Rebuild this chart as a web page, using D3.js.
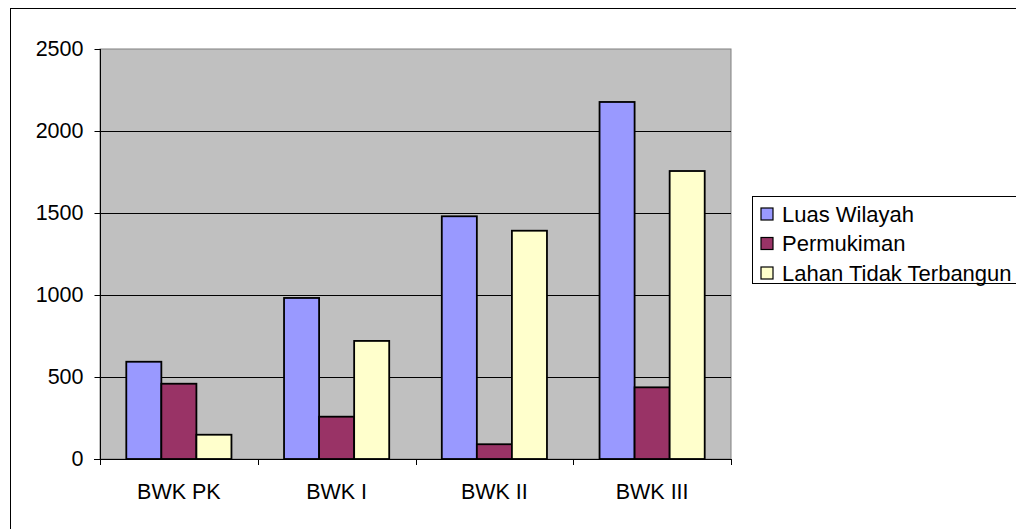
<!DOCTYPE html>
<html>
<head>
<meta charset="utf-8">
<script src="https://cdn.jsdelivr.net/npm/d3@7"></script>
<style>
  body { margin: 0; background: #fff; }
  svg { display: block; font-family: "Liberation Sans", Arial, sans-serif; }
</style>
</head>
<body>
<div id="chart"></div>
<script>
// data
const categories = ["BWK PK", "BWK I", "BWK II", "BWK III"];
const seriesNames = ["Luas Wilayah", "Permukiman", "Lahan Tidak Terbangun"];
const luasWilayah = [593, 982, 1480, 2177];
const permukiman = [459, 258, 90, 437];
const lahanTidakTerbangun = [148, 720, 1392, 1756];
const yTicks = [0, 500, 1000, 1500, 2000, 2500];
const colors = ["#9999FF", "#993366", "#FFFFCC"];

const values = [luasWilayah, permukiman, lahanTidakTerbangun];

const w = 1016, h = 529;
const plot = {left: 100, right: 731, top: 49, bottom: 459};

const svg = d3.select("#chart").append("svg")
  .attr("width", w)
  .attr("height", h);

// outer frame
svg.append("rect")
  .attr("x", 10.5).attr("y", 8.5)
  .attr("width", 1020).attr("height", 540)
  .attr("fill", "#fff").attr("stroke", "#000");

// scales
const x0 = d3.scaleBand().domain(categories).range([plot.left, plot.right]);
const x1 = d3.scaleBand().domain(seriesNames).range([0, x0.bandwidth()])
  .paddingOuter(0.75);
const y = d3.scaleLinear().domain([0, 2500]).range([plot.bottom, plot.top]);

// plot background
svg.append("rect")
  .attr("x", plot.left).attr("y", plot.top)
  .attr("width", plot.right - plot.left).attr("height", plot.bottom - plot.top)
  .attr("fill", "#C0C0C0")
  .attr("stroke", "#808080");

// gridlines
svg.append("g")
  .selectAll("line")
  .data(yTicks.filter(d => d > 0 && d < 2500))
  .enter().append("line")
  .attr("x1", plot.left).attr("x2", plot.right)
  .attr("y1", d => Math.round(y(d)) + 0.5).attr("y2", d => Math.round(y(d)) + 0.5)
  .attr("stroke", "#000");

// bars
const groups = svg.append("g").selectAll("g")
  .data(categories)
  .enter().append("g")
  .attr("transform", d => "translate(" + x0(d) + ",0)");

groups.selectAll("rect")
  .data((d, i) => seriesNames.map((s, j) => ({s: s, v: values[j][i], c: colors[j]})))
  .enter().append("rect")
  .attr("x", d => x1(d.s))
  .attr("y", d => y(d.v))
  .attr("width", x1.bandwidth())
  .attr("height", d => y(0) - y(d.v))
  .attr("fill", d => d.c)
  .attr("stroke", "#000")
  .attr("stroke-width", 1.8);

// y axis
const yAxis = d3.axisLeft(y).tickValues(yTicks).tickSize(6).tickPadding(11)
  .tickFormat(d3.format("d"));
const gy = svg.append("g")
  .attr("transform", "translate(" + (plot.left + 0.5) + ",0)")
  .call(yAxis);

// x axis
const xAxis = d3.axisBottom(x0).tickSize(0).tickPadding(24);
const gx = svg.append("g")
  .attr("transform", "translate(0," + (plot.bottom + 0.5) + ")")
  .call(xAxis);

svg.selectAll(".domain").remove();
[gy, gx].forEach(g => g.selectAll("text")
  .attr("font-size", 21.5).attr("font-family", "Liberation Sans, Arial, sans-serif")
  .attr("fill", "#000"));
gy.selectAll("line").attr("stroke", "#000");

// axis lines
svg.append("line")
  .attr("x1", plot.left + 0.5).attr("x2", plot.left + 0.5)
  .attr("y1", plot.top).attr("y2", plot.bottom + 6)
  .attr("stroke", "#000");
svg.append("line")
  .attr("x1", plot.left - 6).attr("x2", plot.right)
  .attr("y1", plot.bottom + 0.5).attr("y2", plot.bottom + 0.5)
  .attr("stroke", "#000");

// category separators on x axis
svg.append("g").selectAll("line")
  .data(categories.slice(1).concat(["end"]))
  .enter().append("line")
  .attr("x1", (d, i) => Math.round(x0(categories[0]) + x0.step() * (i + 1)) + 0.5)
  .attr("x2", (d, i) => Math.round(x0(categories[0]) + x0.step() * (i + 1)) + 0.5)
  .attr("y1", plot.bottom).attr("y2", plot.bottom + 6)
  .attr("stroke", "#000");

// legend
const legend = svg.append("g");
legend.append("rect")
  .attr("x", 752.5).attr("y", 196.5)
  .attr("width", 300).attr("height", 87)
  .attr("fill", "#fff").attr("stroke", "#000");

const items = legend.selectAll("g.item")
  .data(seriesNames)
  .enter().append("g")
  .attr("transform", (d, i) => "translate(0," + (214 + i * 29.5) + ")");
items.append("rect")
  .attr("x", 761).attr("y", -6)
  .attr("width", 12).attr("height", 12)
  .attr("fill", (d, i) => colors[i])
  .attr("stroke", "#000").attr("stroke-width", 1.2);
items.append("text")
  .attr("x", 782).attr("y", 0)
  .attr("dy", "0.35em")
  .attr("font-size", 22)
  .text(d => d);
</script>
</body>
</html>
